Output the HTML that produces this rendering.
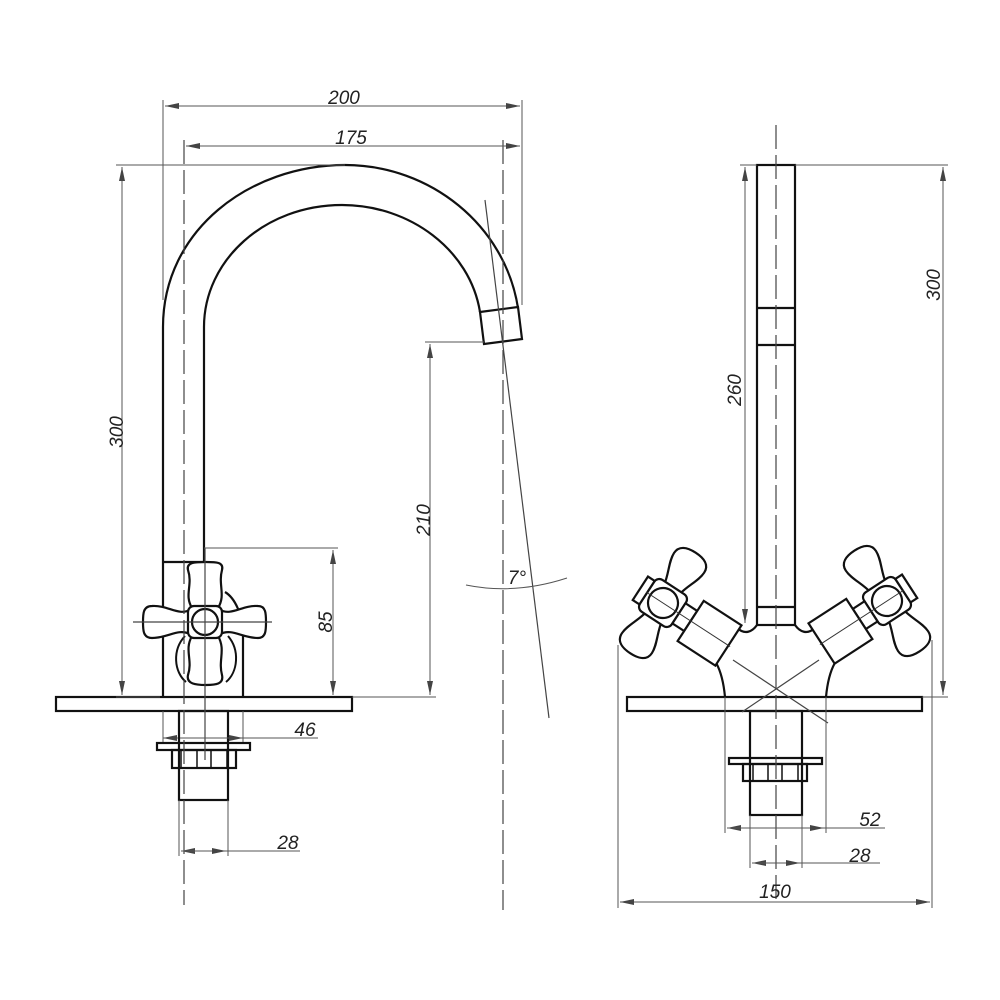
<!DOCTYPE html>
<html><head><meta charset="utf-8"><style>
html,body{margin:0;padding:0;background:#fff}
svg{display:block}
text{font-family:"Liberation Sans",sans-serif;font-style:italic;font-size:19px;fill:#222}
</style></head><body>
<svg width="1000" height="1000" viewBox="0 0 1000 1000" xmlns="http://www.w3.org/2000/svg">
<defs>
<marker id="a" viewBox="0 0 14 6" refX="14" refY="3" markerWidth="14" markerHeight="6" markerUnits="userSpaceOnUse" orient="auto-start-reverse"><path d="M0,0 L14,3 L0,6z" fill="#444"/></marker>
<g id="hd">
 <path d="M-9,-16 C-11,-28 -18,-38 -18,-48 C-18,-57 -10,-60 0,-60 C10,-60 18,-57 18,-48 C18,-38 11,-28 9,-16 Z" fill="#fff" stroke="#111" stroke-width="2.2"/>
 <path d="M-9,16 C-11,28 -18,38 -18,48 C-18,57 -10,60 0,60 C10,60 18,57 18,48 C18,38 11,28 9,16 Z" fill="#fff" stroke="#111" stroke-width="2.2"/>
 <rect x="-19" y="-19" width="38" height="38" rx="6" fill="#fff" stroke="#111" stroke-width="2.2"/>
 <rect x="-27" y="-14" width="8" height="28" fill="#fff" stroke="#111" stroke-width="2.2"/>
 <circle cx="0" cy="0" r="15" fill="#fff" stroke="#111" stroke-width="2.2"/>
 <rect x="19" y="-12" width="14" height="24" fill="#fff" stroke="#111" stroke-width="2.2"/>
 <path d="M33,-24 L78,-24 L78,24 L33,24 Z" fill="#fff" stroke="#111" stroke-width="2.2"/>
 <line x1="-20" y1="0" x2="80" y2="0" stroke="#333" stroke-width="1"/>
</g>
</defs>
<g fill="none" stroke="#111" stroke-width="2.2">
 <rect x="56" y="697" width="296" height="14"/>
 <path d="M163,697 L163,327 C163,230 250,165 345,165 C430,165 505,225 518,308"/>
 <path d="M204,562 L204,327 C204,260 265,205 342,205 C410,205 470,250 480,312"/>
 <path d="M480,312 L518,307 L522,339 L484,344 Z"/>
 <line x1="163" y1="562" x2="204" y2="562"/>
 <path d="M243,697 L243,635 C243,615 235,598 225,592"/>
 <path d="M185,636 C172,650 174,672 186,682 M228,636 C240,650 238,672 226,682" stroke-width="2"/>
 <path d="M192,608 C184,595 193,585 188,570 C186,562 196,562 206,562 C216,562 224,562 222,570 C218,585 226,595 218,608 Z" fill="#fff"/>
 <path d="M192,636 C184,650 193,660 188,675 C186,684 196,685 206,685 C216,685 224,684 222,675 C218,660 226,650 218,636 Z" fill="#fff"/>
 <path d="M190,610 C178,616 168,605 152,606 C143,606 143,614 143,622 C143,630 143,638 152,638 C168,638 178,628 190,634 Z" fill="#fff"/>
 <path d="M220,610 C232,616 242,605 258,606 C266,606 266,614 266,622 C266,630 266,638 258,638 C242,638 232,628 220,634 Z" fill="#fff"/>
 <rect x="188" y="606" width="34" height="32" rx="6" fill="#fff"/>
 <circle cx="205" cy="622" r="13" fill="#fff"/>
 <rect x="179" y="711" width="49" height="89"/>
 <rect x="157" y="743" width="93" height="7"/>
 <rect x="172" y="750" width="64" height="18"/>
 <path d="M181,750 V768 M197,750 V768 M211,750 V768 M227,750 V768" stroke-width="1.5"/>
 <rect x="627" y="697" width="295" height="14"/>
 <rect x="757" y="165" width="38" height="460"/>
 <line x1="757" y1="308" x2="795" y2="308"/><line x1="757" y1="345" x2="795" y2="345"/>
 <line x1="757" y1="607" x2="795" y2="607"/>
 <path d="M725,697 C722,665 712,655 704,650"/>
 <path d="M826,697 C829,665 839,655 847,650"/>
 <path d="M737,628 C745,635 752,632 757,625 M795,625 C800,632 807,635 815,628"/>
 <rect x="750" y="711" width="52" height="104"/>
 <rect x="729" y="758" width="93" height="6"/>
 <rect x="743" y="764" width="64" height="17"/>
 <path d="M753,764 V781 M768,764 V781 M782,764 V781 M798,764 V781" stroke-width="1.5"/>
</g>
<use href="#hd" transform="translate(663,603) rotate(33)"/>
<use href="#hd" transform="translate(887,601) scale(-1,1) rotate(33)"/>
<g stroke="#444" stroke-width="1.2" fill="none">
 <line x1="184" y1="140" x2="184" y2="905" stroke-dasharray="24,6"/>
 <line x1="503" y1="140" x2="503" y2="910" stroke-dasharray="24,6"/>
 <line x1="776" y1="125" x2="776" y2="900" stroke-dasharray="24,6"/>
 <line x1="205" y1="548" x2="205" y2="760"/>
 <line x1="133" y1="622" x2="272" y2="622"/>
 <line x1="485" y1="200" x2="549" y2="718"/>
 <line x1="733" y1="660" x2="828" y2="723"/>
 <line x1="819" y1="660" x2="742" y2="712"/>
</g>
<g stroke="#555" stroke-width="1" fill="none">
 <line x1="163" y1="100" x2="163" y2="300"/><line x1="522" y1="100" x2="522" y2="305"/>
 <line x1="165" y1="106" x2="520" y2="106" marker-start="url(#a)" marker-end="url(#a)"/>
 <line x1="186" y1="146" x2="520" y2="146" marker-start="url(#a)" marker-end="url(#a)"/>
 <line x1="116" y1="165" x2="345" y2="165"/><line x1="116" y1="697" x2="160" y2="697"/>
 <line x1="122" y1="167" x2="122" y2="695" marker-start="url(#a)" marker-end="url(#a)"/>
 <line x1="425" y1="342" x2="484" y2="342"/><line x1="352" y1="697" x2="436" y2="697"/>
 <line x1="430" y1="344" x2="430" y2="695" marker-start="url(#a)" marker-end="url(#a)"/>
 <line x1="204" y1="548" x2="338" y2="548"/>
 <line x1="333" y1="550" x2="333" y2="695" marker-start="url(#a)" marker-end="url(#a)"/>
 <line x1="163" y1="711" x2="163" y2="742"/><line x1="243" y1="711" x2="243" y2="742"/>
 <line x1="180" y1="738" x2="318" y2="738"/>
 <line x1="163" y1="738" x2="178" y2="738" marker-start="url(#a)"/>
 <line x1="228" y1="738" x2="243" y2="738" marker-end="url(#a)"/>
 <line x1="179" y1="800" x2="179" y2="856"/><line x1="228" y1="800" x2="228" y2="856"/>
 <line x1="181" y1="851" x2="300" y2="851" marker-start="url(#a)"/>
 <line x1="181" y1="851" x2="226" y2="851" marker-end="url(#a)"/>
 <path d="M466,585 Q515,595 567,578"/>
 <line x1="795" y1="165" x2="948" y2="165"/><line x1="922" y1="697" x2="948" y2="697"/>
 <line x1="943" y1="167" x2="943" y2="695" marker-start="url(#a)" marker-end="url(#a)"/>
 <line x1="740" y1="165" x2="757" y2="165"/>
 <line x1="745" y1="167" x2="745" y2="623" marker-start="url(#a)" marker-end="url(#a)"/>
 <line x1="725" y1="697" x2="725" y2="833"/><line x1="826" y1="697" x2="826" y2="833"/>
 <line x1="727" y1="828" x2="885" y2="828" marker-start="url(#a)"/>
 <line x1="727" y1="828" x2="824" y2="828" marker-end="url(#a)"/>
 <line x1="750" y1="815" x2="750" y2="868"/><line x1="802" y1="815" x2="802" y2="868"/>
 <line x1="752" y1="863" x2="880" y2="863" marker-start="url(#a)"/>
 <line x1="752" y1="863" x2="800" y2="863" marker-end="url(#a)"/>
 <line x1="618" y1="645" x2="618" y2="908"/><line x1="932" y1="640" x2="932" y2="908"/>
 <line x1="620" y1="902" x2="930" y2="902" marker-start="url(#a)" marker-end="url(#a)"/>
</g>
<text x="344" y="104" text-anchor="middle">200</text>
<text x="351" y="144" text-anchor="middle">175</text>
<text transform="translate(123,432) rotate(-90)" text-anchor="middle">300</text>
<text transform="translate(430,520) rotate(-90)" text-anchor="middle">210</text>
<text transform="translate(332,622) rotate(-90)" text-anchor="middle">85</text>
<text x="305" y="736" text-anchor="middle">46</text>
<text x="288" y="849" text-anchor="middle">28</text>
<text x="517" y="584" text-anchor="middle">7°</text>
<text transform="translate(940,285) rotate(-90)" text-anchor="middle">300</text>
<text transform="translate(741,390) rotate(-90)" text-anchor="middle">260</text>
<text x="870" y="826" text-anchor="middle">52</text>
<text x="860" y="862" text-anchor="middle">28</text>
<text x="775" y="898" text-anchor="middle">150</text>
</svg>
</body></html>
